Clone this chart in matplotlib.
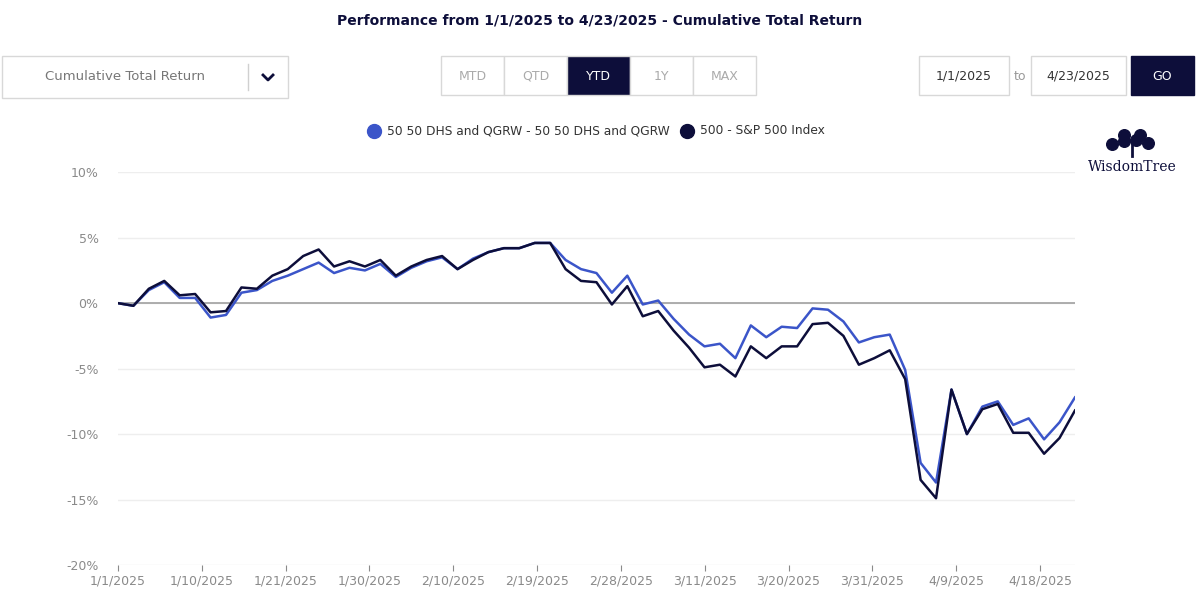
import matplotlib
matplotlib.use("Agg")
import matplotlib.pyplot as plt
from matplotlib.patches import Rectangle

# cumulative total return (%), evenly sampled from 1/1/2025 to 4/23/2025
blend = [0, -0.2, 1.0, 1.6, 0.4, 0.4, -1.1, -0.9, 0.8, 1.0,
         1.7, 2.1, 2.6, 3.1, 2.3, 2.7, 2.5, 3.0, 2.0, 2.7,
         3.2, 3.5, 2.6, 3.4, 3.9, 4.2, 4.2, 4.6, 4.6, 3.3,
         2.6, 2.3, 0.8, 2.1, -0.1, 0.2, -1.2, -2.4, -3.3, -3.1,
         -4.2, -1.7, -2.6, -1.8, -1.9, -0.4, -0.5, -1.4, -3.0, -2.6,
         -2.4, -5.1, -12.2, -13.7, -6.6, -10.0, -7.9, -7.5, -9.3, -8.8,
         -10.4, -9.1, -7.2]
sp500 = [0, -0.2, 1.1, 1.7, 0.6, 0.7, -0.7, -0.6, 1.2, 1.1,
         2.1, 2.6, 3.6, 4.1, 2.8, 3.2, 2.8, 3.3, 2.1, 2.8,
         3.3, 3.6, 2.6, 3.3, 3.9, 4.2, 4.2, 4.6, 4.6, 2.6,
         1.7, 1.6, -0.1, 1.3, -1.0, -0.6, -2.1, -3.4, -4.9, -4.7,
         -5.6, -3.3, -4.2, -3.3, -3.3, -1.6, -1.5, -2.5, -4.7, -4.2,
         -3.6, -5.8, -13.5, -14.9, -6.6, -10.0, -8.1, -7.7, -9.9, -9.9,
         -11.5, -10.3, -8.2]
tick_labels = ["1/1/2025", "1/10/2025", "1/21/2025", "1/30/2025", "2/10/2025", "2/19/2025",
               "2/28/2025", "3/11/2025", "3/20/2025", "3/31/2025", "4/9/2025", "4/18/2025"]
y_ticks = [10, 5, 0, -5, -10, -15, -20]

navy = "#0d0e3a"
blue = "#3b55c9"
grey = "#8a8a8a"

fig = plt.figure(figsize=(12, 5.96), dpi=100)
fig.text(0.5, 0.966, "Performance from 1/1/2025 to 4/23/2025 - Cumulative Total Return",
         ha="center", va="center", fontsize=10, fontweight="bold", color=navy)

# control bar
ui = fig.add_axes([0, 0, 1, 1])
ui.set_xlim(0, 1200)
ui.set_ylim(596, 0)
ui.axis("off")
ui.add_patch(Rectangle((2, 56), 286, 42, fc="white", ec="#d8d8d8"))
ui.text(125, 77, "Cumulative Total Return", ha="center", va="center", fontsize=9.5, color="#777777")
ui.plot([248, 248], [64, 90], color="#d0d0d0", lw=1)
ui.plot([263, 268, 273], [75, 80, 75], color=navy, lw=2)
for i, lab in enumerate(["MTD", "QTD", "YTD", "1Y", "MAX"]):
    x0 = 441 + i * 63
    sel = lab == "YTD"
    ui.add_patch(Rectangle((x0, 56), 63, 39, fc=navy if sel else "white", ec="#d8d8d8"))
    ui.text(x0 + 31.5, 76, lab, ha="center", va="center", fontsize=9,
            color="white" if sel else "#aaaaaa")
ui.add_patch(Rectangle((919, 56), 90, 39, fc="white", ec="#d8d8d8"))
ui.text(964, 76, "1/1/2025", ha="center", va="center", fontsize=9, color="#333333")
ui.text(1020, 76, "to", ha="center", va="center", fontsize=9, color="#999999")
ui.add_patch(Rectangle((1031, 56), 95, 39, fc="white", ec="#d8d8d8"))
ui.text(1078, 76, "4/23/2025", ha="center", va="center", fontsize=9, color="#333333")
ui.add_patch(Rectangle((1131, 56), 63, 39, fc=navy, ec=navy))
ui.text(1162, 76, "GO", ha="center", va="center", fontsize=9, color="white")

# legend
ui.scatter([374], [131], s=100, color=blue)
ui.text(387, 131, "50 50 DHS and QGRW - 50 50 DHS and QGRW", va="center", fontsize=8.8, color="#333333")
ui.scatter([687], [131], s=100, color=navy)
ui.text(700, 131, "500 - S&P 500 Index", va="center", fontsize=8.8, color="#333333")

# logo
ui.text(1132, 167, "WisdomTree", ha="center", va="center", fontsize=10, color=navy, family="DejaVu Serif")
ui.scatter([1112, 1124, 1136, 1148, 1124, 1140], [144, 141, 140, 143, 135, 135], s=70, color=navy)
ui.plot([1132, 1132], [142, 156], color=navy, lw=2)

ax = fig.add_axes([0.0983, 0.052, 0.7975, 0.659])
step = 68.5 / (len(blend) - 1)  # index units per sample
x = [i * step for i in range(len(blend))]
ax.plot(x, blend, color=blue, lw=1.8, zorder=3)
ax.plot(x, sp500, color=navy, lw=1.8, zorder=4)
ax.set_xlim(0, 68.5)
ax.set_ylim(-20, 10)
ax.set_yticks(y_ticks)
ax.set_yticklabels([f"{v}%" for v in y_ticks])
ax.set_xticks(range(0, 6 * len(tick_labels), 6))
ax.set_xticklabels(tick_labels)
for v in y_ticks:
    ax.axhline(v, color="#eeeeee", lw=1, zorder=0)
ax.axhline(0, color="#a0a0a0", lw=1.2, zorder=1)
for s in ax.spines.values():
    s.set_visible(False)
ax.tick_params(axis="y", length=0, colors=grey, labelsize=9, pad=14)
ax.tick_params(axis="x", length=4, colors=grey, labelsize=9, pad=3)
ax.patch.set_alpha(0)

fig.savefig("out.png", dpi=100)
